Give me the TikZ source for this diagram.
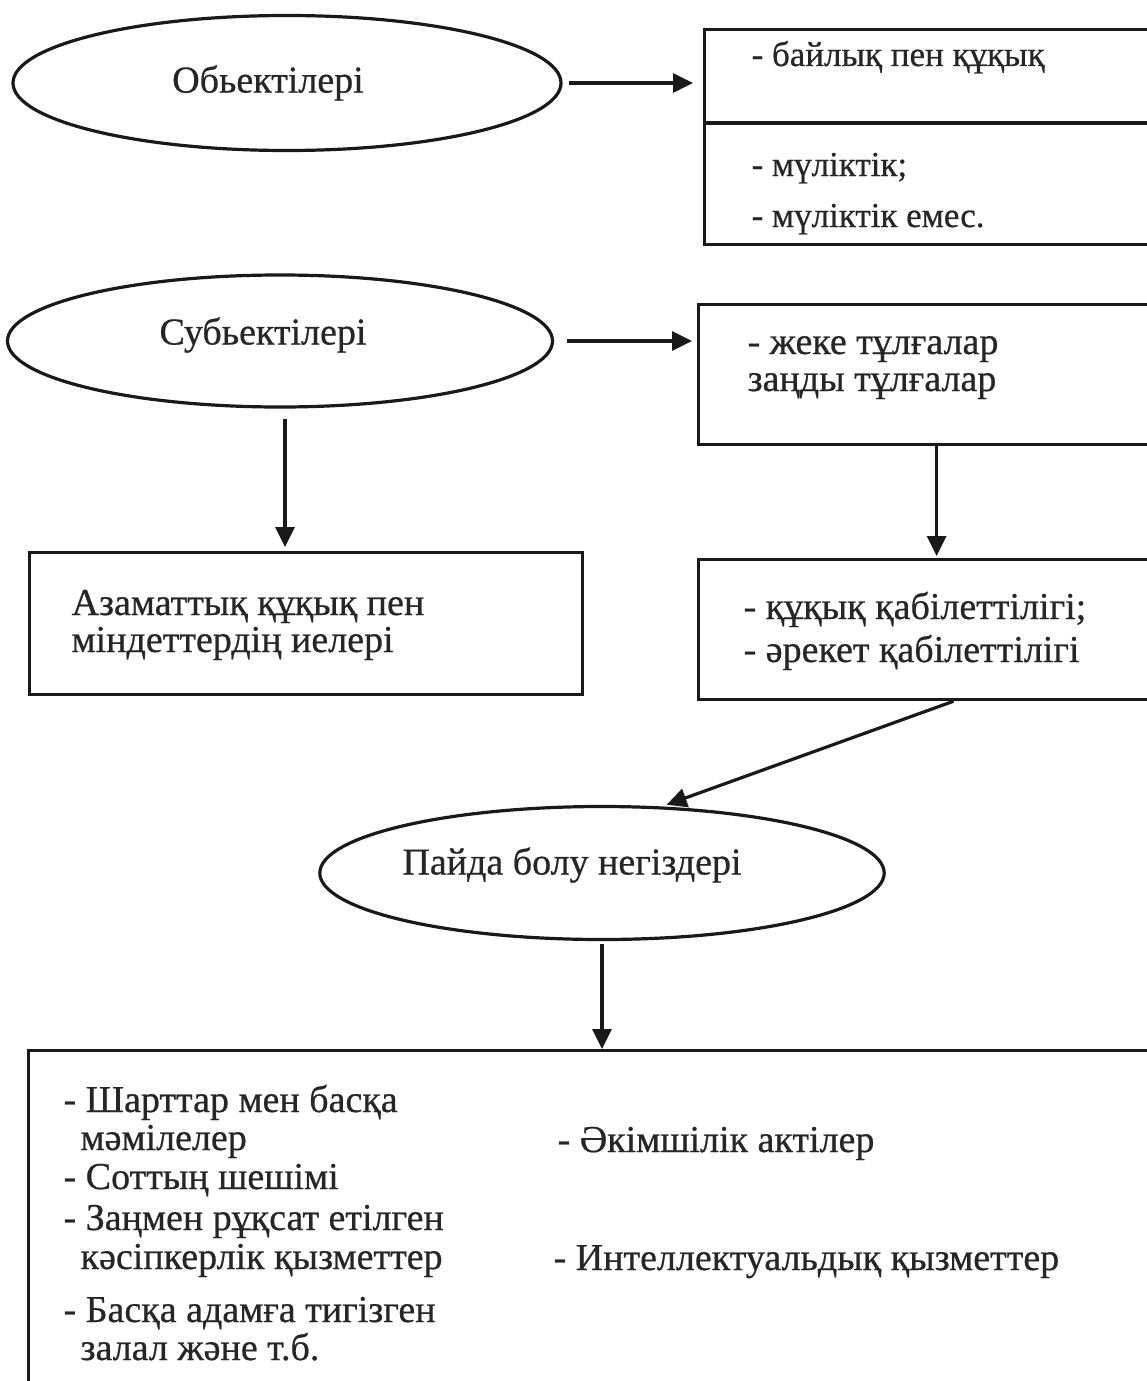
\documentclass[tikz,border=0pt]{standalone}
\usepackage{fontspec}
\setmainfont{Liberation Serif}[FakeBold=0.6]
\usetikzlibrary{positioning,shapes.geometric,arrows.meta}

\begin{document}
\begin{tikzpicture}[x=1pt,y=-1pt,>={Triangle[length=20pt,width=19pt]},line width=3.2pt,draw=black!90]
  \tikzstyle{oval}=[draw,ellipse,inner sep=0pt,font=\fontsize{38}{40}\selectfont,text=black!85]
  \tikzstyle{box}=[draw,rectangle,inner sep=0pt,anchor=north west]
  \tikzstyle{txt}=[anchor=base west,inner sep=0pt,font=\fontsize{38}{40}\selectfont,text=black!85]
  \tikzstyle{smalltxt}=[txt,font=\fontsize{35}{37}\selectfont]
  \useasboundingbox (0,0) rectangle (1147,1381);
  \fill[white] (0,0) rectangle (1147,1381);
  \clip (0,0) rectangle (1147,1381);
  % ovals
  \node[oval,minimum width=548pt,minimum height=135pt] (obj) at (287,83) {Обьектілері\hspace*{38pt}};
  \node[oval,minimum width=545pt,minimum height=132pt] (subj) at (280,341) {\raisebox{6pt}[\height][\depth]{Субьектілері}\hspace*{34pt}};
  \node[oval,minimum width=545pt,minimum height=133pt] (rise) at (602,873) {\raisebox{8pt}[\height][\depth]{Пайда болу негіздері}\hspace*{60pt}};
  % boxes
  \node[box,minimum width=462pt,minimum height=215pt] (box1) at (703,28) {};
  \draw (box1.west |- 0,123) -- (box1.east |- 0,123);
  \node[box,minimum width=466pt,minimum height=140pt] (box2) at (697,303) {};
  \node[box,minimum width=553pt,minimum height=142pt] (box3) at (28,551) {};
  \node[box,minimum width=466pt,minimum height=140pt] (box4) at (697,558) {};
  \node[box,minimum width=1140pt,minimum height=360pt] (bases) at (27,1049) {};
  % texts
  \node[smalltxt] (t1a) at (750,66) {- байлық пен құқық};
  \node[smalltxt] (t1b) at (750,176) {- мүліктік;};
  \node[smalltxt] (t1c) at (750,227) {- мүліктік емес.};
  \node[txt] (t2a) at (746,354) {- жеке тұлғалар};
  \node[txt] (t2b) at (746,391) {заңды тұлғалар};
  \node[txt] (t3a) at (70,615) {Азаматтық құқық пен};
  \node[txt] (t3b) at (70,652) {міндеттердің иелері};
  \node[txt] (t4a) at (742,619) {- құқық қабілеттілігі;};
  \node[txt] (t4b) at (742,662) {- әрекет қабілеттілігі};
  \node[txt] (b1a) at (62,1112) {- Шарттар мен басқа};
  \node[txt] (b1b) at (79,1150) {мәмілелер};
  \node[txt] (b2) at (62,1189) {- Соттың шешімі};
  \node[txt] (b3a) at (62,1230) {- Заңмен рұқсат етілген};
  \node[txt] (b3b) at (79,1269) {кәсіпкерлік қызметтер};
  \node[txt] (b4a) at (62,1322) {- Басқа адамға тигізген};
  \node[txt] (b4b) at (79,1360) {залал және т.б.};
  \node[txt] (b5) at (556,1152) {- Әкімшілік актілер};
  \node[txt] (b6) at (552,1270) {- Интеллектуальдық қызметтер};
  % arrows
  \coordinate (subjout) at ([xshift=5pt]subj.south);
  \coordinate (b2out) at ([xshift=5pt]box2.south);
  \coordinate (b4out) at ([xshift=22pt]box4.south);
  \draw[->,shorten <=6pt,shorten >=10pt] (obj.east) -- (box1.west |- obj.east);
  \draw[->,shorten <=13pt,shorten >=5pt] (subj.east) -- (box2.west |- subj.east);
  \draw[->,shorten <=10pt,shorten >=4pt] (subjout) -- (box3.north -| subjout);
  \draw[->,shorten >=2pt] (b2out) -- (box4.north -| b2out);
  \draw[->,shorten >=5pt] (b4out) -- (rise.48);
  \draw[->,shorten <=3pt] (rise.south) -- (bases.north -| rise.south);
\end{tikzpicture}
\end{document}
